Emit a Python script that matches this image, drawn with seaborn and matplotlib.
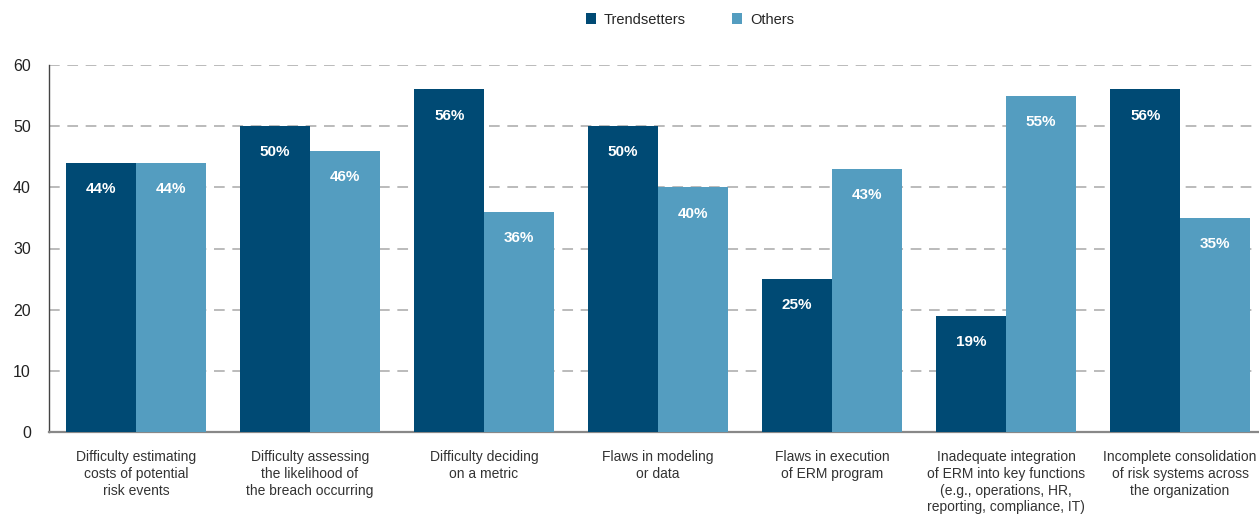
import matplotlib
matplotlib.use("Agg")
import matplotlib.pyplot as plt
import seaborn as sns
import pandas as pd
from matplotlib.patches import Patch

categories = [
    "Difficulty estimating\ncosts of potential\nrisk events",
    "Difficulty assessing\nthe likelihood of\nthe breach occurring",
    "Difficulty deciding\non a metric",
    "Flaws in modeling\nor data",
    "Flaws in execution\nof ERM program",
    "Inadequate integration\nof ERM into key functions\n(e.g., operations, HR,\nreporting, compliance, IT)",
    "Incomplete consolidation\nof risk systems across\nthe organization",
]
trendsetters = [44, 50, 56, 50, 25, 19, 56]
others = [44, 46, 36, 40, 43, 55, 35]
series_names = ["Trendsetters", "Others"]
colors = ["#004a74", "#549dc0"]
y_ticks = [0, 10, 20, 30, 40, 50, 60]

df = pd.DataFrame({
    "category": categories * 2,
    "value": trendsetters + others,
    "group": [series_names[0]] * len(categories) + [series_names[1]] * len(categories),
})

sns.set_theme(style="white")
plt.rcParams["font.family"] = ["Liberation Sans", "DejaVu Sans"]

fig = plt.figure(figsize=(12.59, 5.14), dpi=100)
ax = fig.add_axes([49 / 1259, 82 / 514, 1210 / 1259, 367 / 514])

sns.barplot(data=df, x="category", y="value", hue="group", order=categories,
            hue_order=series_names, palette=colors, width=0.8, saturation=1,
            edgecolor="none", linewidth=0, legend=False, ax=ax, zorder=3)

ax.set_xlim(-0.5, 6.454)
ax.set_ylim(0, 60)
ax.set_yticks(y_ticks)
ax.set_yticklabels([str(t) for t in y_ticks], fontsize=11.5, color="#222222")
ax.tick_params(axis="y", length=0, pad=13)
ax.tick_params(axis="x", length=0, pad=13)
for lbl in ax.get_xticklabels():
    lbl.set_fontsize(10)
    lbl.set_color("#333333")
    lbl.set_linespacing(1.25)
    lbl.set_verticalalignment("top")
ax.set_xlabel("")
ax.set_ylabel("")

for y in y_ticks[1:]:
    ax.axhline(y, color="#a8a8a8", lw=1.1, ls=(0, (7, 5)), zorder=1)

for side in ["top", "right"]:
    ax.spines[side].set_visible(False)
ax.spines["left"].set_color("#444444")
ax.spines["left"].set_linewidth(1.0)
ax.spines["bottom"].set_color("#888888")
ax.spines["bottom"].set_linewidth(1.6)

for container in ax.containers:
    vals = [bar.get_height() for bar in container]
    ax.bar_label(container, labels=[f"{v:.0f}%" for v in vals],
                 padding=-24, color="white", fontsize=11, fontweight="bold")

handles = [Patch(facecolor=c, edgecolor="none") for c in colors]
fig.legend(handles, series_names, loc="center", bbox_to_anchor=(0.548, 0.962),
           ncol=2, frameon=False, fontsize=10.5, handlelength=0.7, handleheight=0.7,
           handletextpad=0.5, columnspacing=3.2)

fig.savefig("out.png", dpi=100)
